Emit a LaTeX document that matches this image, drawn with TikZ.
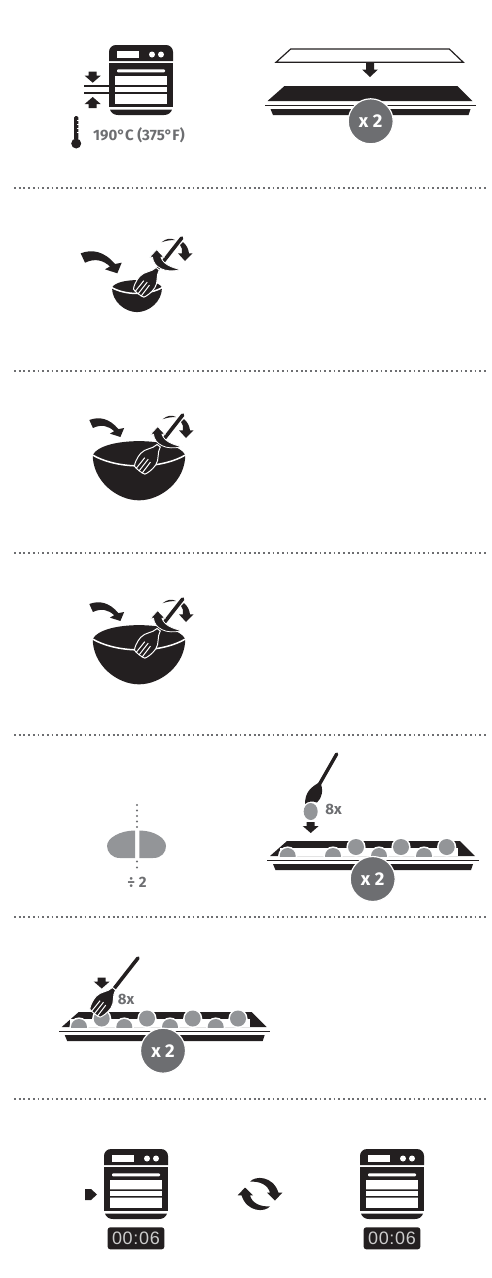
\documentclass[tikz,border=0pt]{standalone}
\usepackage{fontspec}
\setmainfont{Fira Sans}
\definecolor{inkk}{HTML}{231F20}
\definecolor{dgray}{HTML}{6D6E71}
\definecolor{lgray}{HTML}{939598}
\tikzset{
  sepline/.style={dgray,line width=1.8pt,dash pattern=on 1.8pt off 2.9pt},
  lab/.style={text=dgray,font=\fontsize{15}{16}\selectfont\bfseries,inner sep=0pt},
  badge/.style={circle,fill=dgray,draw=white,line width=1.2pt,minimum size=45pt,inner sep=0pt,text=white,font=\fontsize{18.5}{19}\selectfont\bfseries},
}
\newcommand{\ovenshape}[2]{%
\begin{scope}[shift={(#1,#2)}]
  \fill[inkk] (0,16) -- (0,7) .. controls (0,3) and (3,0) .. (7,0) -- (57,0) .. controls (61,0) and (64,3) .. (64,7) -- (64,16) -- cycle;
  \fill[white] (8,6) rectangle (30,13);
  \fill[white] (43,9.5) circle[radius=3] (52,9.5) circle[radius=3];
  \fill[inkk] (0,18) rectangle (64,62);
  \fill[white,rounded corners=1pt] (8,24.3) rectangle (56,27.3);
  \fill[white] (6,31) rectangle (58,58.5);
  \fill[inkk] (6,40.3) rectangle (58,41.8) (6,47.2) rectangle (58,48.7);
  \fill[inkk] (1,64.5) -- (63,64.5) .. controls (62,68) and (59,70) .. (55,70) -- (9,70) .. controls (5,70) and (2,68) .. (1,64.5) -- cycle;
\end{scope}}
\newcommand{\dnarrow}[2]{%
\fill[inkk,shift={(#1,#2)}] (-4,0) -- (4,0) -- (4,4) -- (8,4) -- (0,11) -- (-8,4) -- (-4,4) -- cycle;}
\newcommand{\uparrowshape}[2]{%
\fill[inkk,shift={(#1,#2)}] (-4,0) -- (4,0) -- (4,-4) -- (8,-4) -- (0,-11) -- (-8,-4) -- (-4,-4) -- cycle;}
\newcommand{\trayshape}[2]{%
\begin{scope}[shift={(#1,#2)}]
  \fill[inkk] (0,0) -- (17,-15) -- (190,-15) -- (205,0) -- cycle;
  \fill[inkk] (-3,3.6) rectangle (208.5,5.4);
  \fill[inkk] (3,8) -- (203,8) -- (201,14) -- (5.5,14) -- cycle;
\end{scope}}
\newcommand{\forkshape}[2]{%
\begin{scope}[shift={(#1,#2)},rotate=232]
  \draw[inkk,line width=3.6pt,line cap=round] (0,0) -- (42,0);
  \fill[inkk,draw=white,line width=1pt] (39,-2) .. controls (46,-3) and (49,-9) .. (56,-9.5) .. controls (62,-9.8) and (68,-8) .. (70,-6.5) .. controls (71,-3) and (71,3) .. (70,6.5) .. controls (68,8) and (62,9.8) .. (56,9.5) .. controls (49,9) and (46,3) .. (39,2) -- cycle;
  \draw[white,line width=1pt] (57,-3.6) -- (71,-3.8) (56,0) -- (71,0) (57,3.6) -- (71,3.8);
\end{scope}}
\newcommand{\spinshape}[2]{%
\begin{scope}[shift={(#1,#2)}]
  \forkshape{181.7}{238}
  \fill[inkk,draw=white,line width=.8pt] (152.5,257.3) .. controls (153.5,267) and (165,274) .. (181,269.5) .. controls (172,268) and (163,264) .. (161,257.3) -- (164,257.3) -- (156.7,249.5) -- (149.5,257.3) -- cycle;
  \fill[inkk] (161.5,242.3) .. controls (166,238.3) and (171,237.8) .. (175,240) .. controls (171,240) and (166,240.5) .. (161.5,242.3) -- cycle;
  \fill[inkk] (180,245) .. controls (182,247) and (182.5,250) .. (182,253.3) -- (178,253.3) -- (185,261) -- (192.5,253.3) -- (189,253.3) .. controls (188.5,249) and (186.5,245) .. (183,242) -- cycle;
\end{scope}}
\newcommand{\bowlshape}[3]{%
\begin{scope}[shift={(#1,#2)},scale=#3]
  \fill[inkk] (-25,0) .. controls (-20,-10) and (20,-10) .. (25,0) .. controls (25,14) and (12,24.5) .. (0,24.5) .. controls (-12,24.5) and (-25,14) .. (-25,0) -- cycle;
  \draw[white,line width=1.5pt] (-26,-0.5) .. controls (-12,8) and (12,8) .. (26,-0.5);
\end{scope}}
\newcommand{\pourarrow}[3]{%
\fill[inkk,shift={(#1,#2)},scale=#3] (0,0) .. controls (11.3,-4.3) and (23.3,-2.3) .. (34.3,10.7) -- (41,9.4) -- (36.6,20) -- (24.3,16) -- (29.3,13.2) .. controls (22.3,6.7) and (14.3,4.7) .. (4.3,9.4) -- cycle;}
\newcommand{\timerbox}[3]{%
\fill[inkk,rounded corners=2.5pt] (#1,#2) rectangle ++(56.6,22);
\node[#3] at (#1+28.3,#2+11) {\fontspec{Liberation Sans}[LetterSpace=4]\fontsize{18}{18}\selectfont 00:06};}
\newcommand{\cyclehalf}{%
(-10,-12.3) .. controls (-5,-18.5) and (13,-18.5) .. (18.5,-1.3) -- (22.3,-1.3) -- (15,6.5) -- (7,-1.3) -- (10,-1.3) .. controls (8,-9) and (0,-13) .. (-10,-12.3) -- cycle}
\begin{document}
\begin{tikzpicture}[x=1pt,y=-1pt]
\useasboundingbox (0,0) rectangle (491,1278);
\foreach \yy in {188,371,553,735,917,1099}{\draw[sepline] (14,\yy) -- (487,\yy);}
% step 1: oven
\ovenshape{109}{45}
\draw[inkk,line width=1.3pt] (84,86) -- (173,86) (84,92.9) -- (173,92.9);
\dnarrow{92.7}{71.7}
\uparrowshape{92.7}{108}
\fill[inkk,rounded corners=1.5pt] (74,116) rectangle (78.4,140);
\fill[inkk] (76.2,143.5) circle[radius=5];
\draw[white,line width=.7pt] (76.7,120.5) -- (78.6,120.5) (76.7,124.5) -- (78.6,124.5) (76.7,128.5) -- (78.6,128.5) (76.7,132.5) -- (78.6,132.5);
\node[lab,anchor=west] (temp) at (93,135.5) {190°C (375°F)};
% step 1: paper and tray
\draw[inkk,line width=1.2pt,fill=white] (276,62.3) -- (290.7,49) -- (449.3,49) -- (463.3,62.3) -- cycle;
\fill[inkk] (366,63) -- (374,63) -- (374,69.5) -- (378,69.5) -- (370,77) -- (362,69.5) -- (366,69.5) -- cycle;
\trayshape{267.5}{101}
\node[badge] (b1) at (370.7,121.3) {x 2};
% step 2
\pourarrow{80.7}{253.3}{1}
\bowlshape{137}{287.6}{1}
\spinshape{0}{0}
% step 3
\pourarrow{89.3}{420}{.85}
\bowlshape{139}{455}{1.85}
\spinshape{1}{177}
% step 4
\pourarrow{89.3}{604}{.85}
\bowlshape{139}{639}{1.85}
\spinshape{1}{361}
% step 5: dough
\fill[lgray] (135,830.5) .. controls (120,830.5) and (107,838) .. (107,846) .. controls (107,852) and (112,858) .. (120,858) -- (135,858) -- cycle;
\fill[lgray] (139.3,830.5) .. controls (154,830.5) and (166,838) .. (166,846) .. controls (166,852) and (162,858) .. (153,858) -- (139.3,858) -- cycle;
\foreach \yy in {805,810.5,816,821.5,827,861.5,867.5}{\fill[dgray] (137,\yy) circle[radius=1.2];}
\node[lab] (half) at (137,882) {÷ 2};
% step 5: spoon and tray
\draw[inkk,line width=3.4pt,line cap=round] (336.7,754) -- (319,785);
\fill[inkk] (320,782) .. controls (311,787) and (305,792) .. (305,804) .. controls (308,801) and (313,801) .. (317,802.5) .. controls (322,798) and (324,790) .. (320,782) -- cycle;
\fill[lgray] (310.7,811.5) ellipse[x radius=7,y radius=8.5];
\node[lab] (n1) at (333.5,809) {8x};
\dnarrow{310.7}{822}
\trayshape{270}{856}
\fill[white] (280,847.5) rectangle (458,856);
\begin{scope}
  \clip (270,830) rectangle (480,856);
  \foreach \xx in {287.7,333,379,424}{\fill[white] (\xx,856) circle[radius=9.6];\fill[lgray] (\xx,856) circle[radius=8];}
\end{scope}
\foreach \xx in {356,401,446.7}{\fill[white] (\xx,847) circle[radius=9.6];\fill[lgray] (\xx,847) circle[radius=8];}
\node[badge] (b2) at (372.7,879) {x 2};
% step 6: fork and tray
\trayshape{61.7}{1027}
\fill[white] (70,1018.5) rectangle (250,1027);
\begin{scope}
  \clip (60,1000) rectangle (270,1027);
  \foreach \xx in {79,124.3,170,215.7}{\fill[white] (\xx,1027) circle[radius=9.6];\fill[lgray] (\xx,1027) circle[radius=8];}
\end{scope}
\foreach \xx in {101.7,147,192.7,238}{\fill[white] (\xx,1018.5) circle[radius=9.6];\fill[lgray] (\xx,1018.5) circle[radius=8];}
\forkshape{138}{958}
\dnarrow{101.7}{977.5}
\node[lab] (n2) at (126,999) {8x};
\node[badge] (b3) at (163,1050.7) {x 2};
% step 7: ovens
\fill[inkk] (85,1189) -- (91,1189) -- (97,1194.5) -- (91,1200) -- (85,1200) -- cycle;
\ovenshape{104}{1149}
\timerbox{107.7}{1227.3}{text=white!80!black,inner sep=0pt}
\fill[inkk,shift={(260,1194)}] \cyclehalf;
\fill[inkk,shift={(260,1194)},rotate=180] \cyclehalf;
\ovenshape{360}{1149}
\timerbox{363.7}{1227.3}{text=white!80!black,inner sep=0pt}
\end{tikzpicture}
\end{document}
